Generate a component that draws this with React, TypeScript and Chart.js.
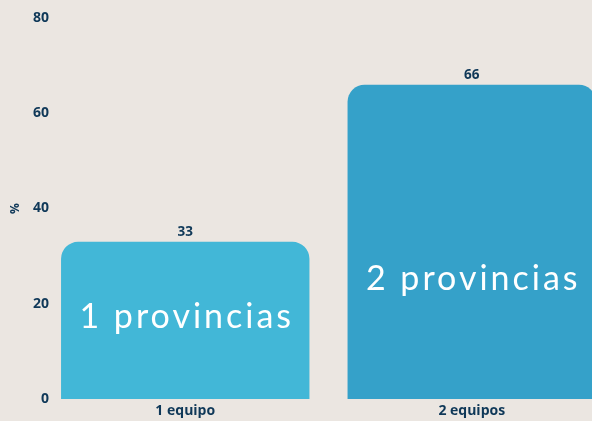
import React, { useEffect, useRef } from "react";
import { Chart, registerables } from "chart.js";

Chart.register(...registerables);

const categories = ["1 equipo", "2 equipos"];
const values = [33, 66];
const innerLabels = ["1 provincias", "2 provincias"];
const innerLabelBaselineValues = [14.9, 22.9];
const yTicks = [0, 20, 40, 60, 80];
const barColors = ["#42B7D7", "#35A1C9"];

const NAVY = "#0F3858";
const BG = "#EBE6E1";

const labelsPlugin = {
  id: "barLabels",
  afterDraw(chart: any) {
    const { ctx } = chart;
    const meta = chart.getDatasetMeta(0);
    const yScale = chart.scales.y;
    ctx.save();
    // y tick labels drawn from the scale's ticks
    ctx.font = "bold 14px 'Open Sans'";
    ctx.fillStyle = NAVY;
    ctx.textAlign = "right";
    ctx.textBaseline = "middle";
    yScale.ticks.forEach((t: any, i: number) => {
      ctx.fillText(String(t.value), yScale.right + 7, yScale.getPixelForTick(i));
    });
    meta.data.forEach((bar: any, i: number) => {
      // value label above bar
      ctx.font = "bold 13.5px 'Open Sans'";
      ctx.fillStyle = NAVY;
      ctx.textAlign = "center";
      ctx.textBaseline = "bottom";
      ctx.fillText(String(values[i]), bar.x, bar.y - 3);
      // inner label
      ctx.font = "normal 34px Lato";
      ctx.fillStyle = "#FFFFFF";
      ctx.textAlign = "center";
      ctx.textBaseline = "alphabetic";
      const spacing = 3;
      (ctx as any).letterSpacing = spacing + "px";
      const by = yScale.getPixelForValue(innerLabelBaselineValues[i]);
      ctx.fillText(innerLabels[i], bar.x + spacing / 2, by);
      (ctx as any).letterSpacing = "0px";
    });
    ctx.restore();
  },
};

export default function App() {
  const ref = useRef<HTMLCanvasElement | null>(null);

  useEffect(() => {
    document.documentElement.style.background = BG;
    document.body.style.margin = "0";
    document.body.style.background = BG;
    document.body.style.overflow = "hidden";
    const canvas = ref.current;
    if (!canvas) return;
    const chart = new Chart(canvas, {
      type: "bar",
      data: {
        labels: categories,
        datasets: [
          {
            data: values,
            backgroundColor: barColors,
            borderRadius: 17,
            borderSkipped: "start",
            categoryPercentage: 1,
            barPercentage: 0.867,
          },
        ],
      },
      options: {
        animation: false,
        responsive: false,
        maintainAspectRatio: false,
        layout: { padding: { top: 18, right: 0, bottom: 0, left: 0 } },
        plugins: {
          legend: { display: false },
          tooltip: { enabled: false },
        },
        scales: {
          x: {
            grid: { display: false, drawTicks: false },
            border: { display: false },
            ticks: {
              color: NAVY,
              font: { family: "'Open Sans'", size: 14, weight: "bold" },
              padding: 4,
            },
            afterFit: (scale: any) => {
              scale.height = 22;
            },
          },
          y: {
            min: yTicks[0],
            max: yTicks[yTicks.length - 1],
            grid: { display: false, drawTicks: false },
            border: { display: false },
            afterBuildTicks: (scale: any) => {
              scale.ticks = yTicks.map((v) => ({ value: v }));
            },
            ticks: {
              display: false,
            },
            title: {
              display: true,
              text: "%",
              color: NAVY,
              font: { family: "'Open Sans'", size: 12, weight: "bold" },
              padding: { top: 8, bottom: 0 },
            },
            afterFit: (scale: any) => {
              scale.width = 42;
            },
          },
        },
      },
      plugins: [labelsPlugin],
    });
    return () => chart.destroy();
  }, []);

  return (
    <div style={{ width: 592, height: 421, overflow: "hidden", background: BG }}>
      <canvas ref={ref} width={615} height={421} style={{ display: "block", width: 615, height: 421 }} />
    </div>
  );
}
